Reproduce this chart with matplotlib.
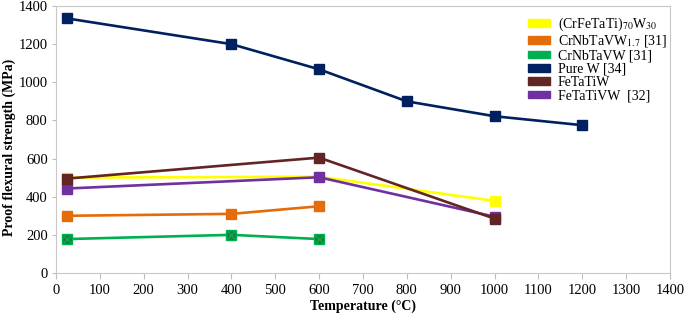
import matplotlib
matplotlib.use("Agg")
import matplotlib.pyplot as plt
from matplotlib.patches import Patch

plt.rcParams['font.family'] = ['Liberation Serif', 'DejaVu Serif']
plt.rcParams['mathtext.fontset'] = 'stix'

# data
temp_crfetati = [25, 600, 1000]
val_crfetati = [500, 505, 378]
temp_w17 = [25, 400, 600]
val_w17 = [300, 310, 350]
temp_crnbtavw = [25, 400, 600]
val_crnbtavw = [178, 200, 178]
temp_purew = [25, 400, 600, 800, 1000, 1200]
val_purew = [1335, 1200, 1068, 900, 822, 775]
temp_fetatiw = [25, 600, 1000]
val_fetatiw = [495, 605, 285]
temp_fetativw = [25, 600, 1000]
val_fetativw = [443, 502, 295]

labels = [r'(CrFeTaTi)$_{70}$W$_{30}$', r'CrNbTaVW$_{1.7}$ [31]', 'CrNbTaVW [31]',
          'Pure W [34]', 'FeTaTiW', 'FeTaTiVW  [32]']
colors = ['#FFFF00', '#E46C0A', '#00B050', '#002060', '#632523', '#7030A0']

fig = plt.figure(figsize=(6.85, 3.17), dpi=100)
ax = fig.add_axes([56/685, 1-273/317, 614/685, 267/317])

lw = 1.9
ms = 7.5
ax.plot(temp_crfetati, val_crfetati, color=colors[0], lw=lw, marker='s', ms=ms, zorder=2)
ax.plot(temp_w17, val_w17, color=colors[1], lw=lw, marker='s', ms=ms, zorder=3)
ax.plot(temp_crnbtavw, val_crnbtavw, color=colors[2], lw=lw, marker='s', ms=ms,
        mfc='#1E7B3E', mec='#00B050', zorder=3)
ax.plot(temp_crnbtavw, val_crnbtavw, ls='none', marker='x', ms=6, mew=1.0,
        color='#00B050', zorder=4)
ax.plot(temp_purew, val_purew, color=colors[3], lw=lw, marker='s', ms=ms, zorder=3)
ax.plot(temp_fetatiw, val_fetatiw, color=colors[4], lw=lw, marker='s', ms=ms, zorder=4)
ax.plot(temp_fetativw, val_fetativw, color=colors[5], lw=lw, marker='s', ms=ms, zorder=3)

ax.set_xlim(0, 1400)
ax.set_ylim(0, 1400)
ax.set_xticks(range(0, 1401, 100))
ax.set_yticks(range(0, 1401, 200))
ax.tick_params(labelsize=10.5, color='#BFBFBF', length=4, width=0.8, direction='out')
ax.tick_params(axis='y', length=3, pad=3)
ax.tick_params(axis='x', pad=4)
for s in ax.spines.values():
    s.set_color('#C8C8C8')
    s.set_linewidth(0.8)
ax.set_xlabel('Temperature (°C)', fontsize=10, fontweight='bold', labelpad=2)
ax.set_ylabel('Proof flexural strength (MPa)', fontsize=10, fontweight='bold',
              va='center')
ax.yaxis.set_label_coords(-47/614, 0.47)

handles = [Patch(color=c) for c in colors]
ax.legend(handles, labels, loc='upper left', bbox_to_anchor=(462/614, 1.0), frameon=False,
          fontsize=10, handlelength=1.6, handleheight=0.45, labelspacing=0.02,
          handletextpad=0.55, borderaxespad=0.3)

fig.savefig('out.png', dpi=100)
